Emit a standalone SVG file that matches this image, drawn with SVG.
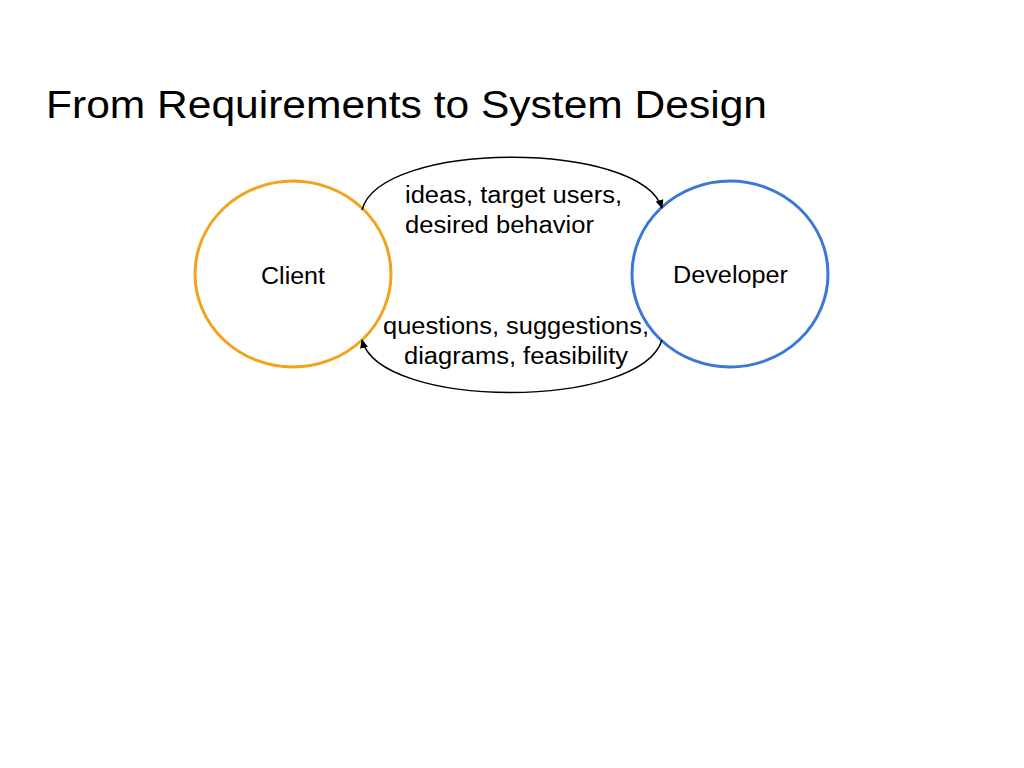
<svg xmlns="http://www.w3.org/2000/svg" width="1024" height="768" viewBox="0 0 1024 768">
<style>
text{font-family:"Liberation Sans",Arial,sans-serif;fill:#000}
.lbl{font-size:23px}
.arc{fill:none;stroke:#000;stroke-width:1.5}
</style>
<defs><marker id="ah" markerWidth="10" markerHeight="10" refX="8" refY="5" orient="auto" markerUnits="userSpaceOnUse"><path d="M0,1 L9,5 L0,9 Z" fill="#000"/></marker></defs>
<rect width="1024" height="768" fill="#fff"/>
<text x="46" y="118" font-size="39" textLength="721" lengthAdjust="spacingAndGlyphs">From Requirements to System Design</text>
<g id="client"><ellipse cx="293" cy="274" rx="98" ry="93" fill="none" stroke="#f4a21c" stroke-width="3"/><text class="lbl" x="261" y="284" textLength="64" lengthAdjust="spacingAndGlyphs">Client</text></g>
<g id="developer"><ellipse cx="730" cy="274" rx="98" ry="93" fill="none" stroke="#3a78d6" stroke-width="3"/><text class="lbl" x="673" y="283" textLength="115" lengthAdjust="spacingAndGlyphs">Developer</text></g>
<g id="connectors">
<path class="arc" d="M362,210 C380,140 640,140 662,208" marker-end="url(#ah)"/>
<path class="arc" d="M662,340 C640,410 380,410 362,340" marker-end="url(#ah)"/>
</g>
<text class="lbl" x="405" y="203" textLength="217" lengthAdjust="spacingAndGlyphs">ideas, target users,</text>
<text class="lbl" x="405" y="233" textLength="189" lengthAdjust="spacingAndGlyphs">desired behavior</text>
<text class="lbl" x="383" y="334" textLength="266" lengthAdjust="spacingAndGlyphs">questions, suggestions,</text>
<text class="lbl" x="404" y="364" textLength="224" lengthAdjust="spacingAndGlyphs">diagrams, feasibility</text>
</svg>
